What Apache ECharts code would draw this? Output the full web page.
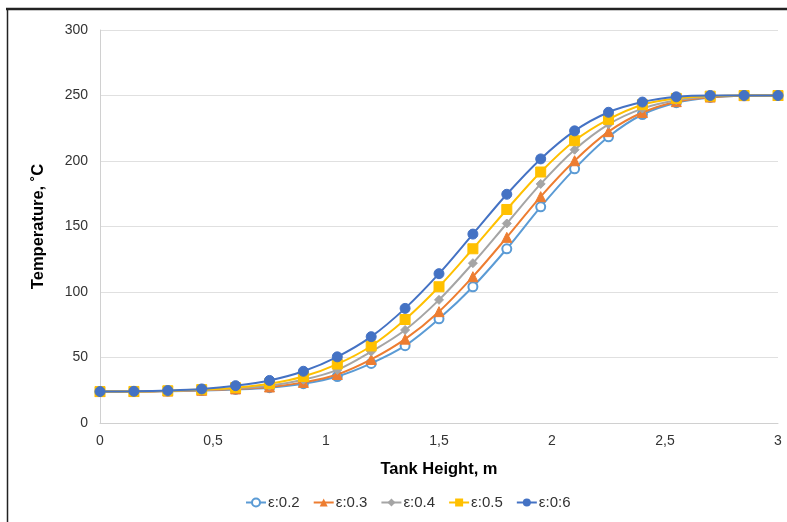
<!DOCTYPE html>
<html>
<head>
<meta charset="utf-8">
<script src="https://cdn.jsdelivr.net/npm/echarts@6/dist/echarts.min.js"></script>
<style>
  html, body { margin: 0; padding: 0; background: #fff; }
  #chart { width: 787px; height: 522px; }
</style>
</head>
<body>
<div id="chart"></div>
<script>
// tank height, m
var heights = [0, 0.15, 0.3, 0.45, 0.6, 0.75, 0.9, 1.05, 1.2, 1.35, 1.5, 1.65, 1.8, 1.95, 2.1, 2.25, 2.4, 2.55, 2.7, 2.85, 3];

// temperature, C
var eps02 = [24, 24, 24.3, 24.8, 25.6, 27, 30, 35.5, 45.5, 59, 79.5, 104, 133, 165, 194, 218.5, 235.5, 244.5, 248.5, 249.8, 250];
var eps03 = [24, 24, 24.4, 25, 26, 27.5, 31, 37, 48.5, 64, 85, 111.7, 141.7, 172.8, 200.2, 222.4, 237, 245.3, 248.8, 249.9, 250];
var eps04 = [24, 24.1, 24.5, 25.2, 26.5, 28.5, 33, 40.5, 54.5, 71, 94, 122, 152.3, 182.5, 208.6, 228, 240, 246.3, 249.2, 250, 250];
var eps05 = [24, 24.1, 24.6, 25.5, 27, 30, 35.5, 45, 58.8, 79, 104, 133, 163, 191.6, 215.5, 231.8, 243, 247.8, 249.5, 250, 250];
var eps06 = [24, 24.2, 24.8, 26, 28.5, 32.5, 39.5, 50.5, 65.9, 87.5, 114, 144.2, 174.6, 201.6, 223, 237.2, 245, 249, 250, 250, 250];

var names = ['ε:0.2', 'ε:0.3', 'ε:0.4', 'ε:0.5', 'ε:0:6'];
var colors = ['#5B9BD5', '#ED7D31', '#A5A5A5', '#FFC000', '#4472C4'];
var symbols = ['emptyCircle', 'triangle', 'diamond', 'rect', 'circle'];
var symbolSizes = [9, 10, 9, 10, 10];

function pairs(ys) {
  return heights.map(function (x, i) { return [x, ys[i]]; });
}

var allData = [eps02, eps03, eps04, eps05, eps06];
var series = allData.map(function (ys, k) {
  return {
    name: names[k],
    type: 'line',
    smooth: 0.35,
    data: pairs(ys),
    symbol: symbols[k],
    symbolSize: symbolSizes[k],
    lineStyle: { color: colors[k], width: 2 },
    itemStyle: { color: colors[k], borderColor: colors[k] },
    z: 2 + k
  };
});

var myChart = echarts.init(document.getElementById('chart'));
var option = {
  animation: false,
  color: colors,
  textStyle: { fontFamily: 'Liberation Sans, Arial, sans-serif' },
  grid: { left: 100, right: 9, top: 30, bottom: 99 },
  graphic: [
    { type: 'line', shape: { x1: 6, y1: 9, x2: 787, y2: 9 }, style: { stroke: '#222', lineWidth: 2.5 } },
    { type: 'line', shape: { x1: 7.5, y1: 8, x2: 7.5, y2: 522 }, style: { stroke: '#222', lineWidth: 1.5 } }
  ],
  legend: {
    bottom: 7,
    left: 240,
    itemWidth: 20,
    itemHeight: 10,
    itemGap: 13,
    textStyle: { fontSize: 15, color: '#333', padding: [0, 0, 0, -3] },
    data: names
  },
  xAxis: {
    type: 'value',
    min: 0,
    max: 3,
    interval: 0.5,
    name: 'Tank Height, m',
    nameLocation: 'middle',
    nameGap: 38,
    nameTextStyle: { fontSize: 16.5, fontWeight: 'bold', color: '#000' },
    axisLine: { show: true, lineStyle: { color: '#d0d0d0', width: 1 } },
    axisTick: { show: false },
    splitLine: { show: false },
    axisLabel: {
      fontSize: 14,
      color: '#333',
      margin: 11,
      formatter: function (v) { return String(v).replace('.', ','); }
    }
  },
  yAxis: {
    type: 'value',
    min: 0,
    max: 300,
    interval: 50,
    name: 'Temperature, ˚C',
    nameLocation: 'middle',
    nameGap: 53,
    nameTextStyle: { fontSize: 16.5, fontWeight: 'bold', color: '#000' },
    axisLine: { show: true, lineStyle: { color: '#d0d0d0', width: 1 } },
    axisTick: { show: false },
    splitLine: { lineStyle: { color: '#e0e0e0', width: 1 } },
    axisLabel: { fontSize: 14, color: '#333', margin: 12 }
  },
  series: series
};
myChart.setOption(option);
</script>
</body>
</html>
